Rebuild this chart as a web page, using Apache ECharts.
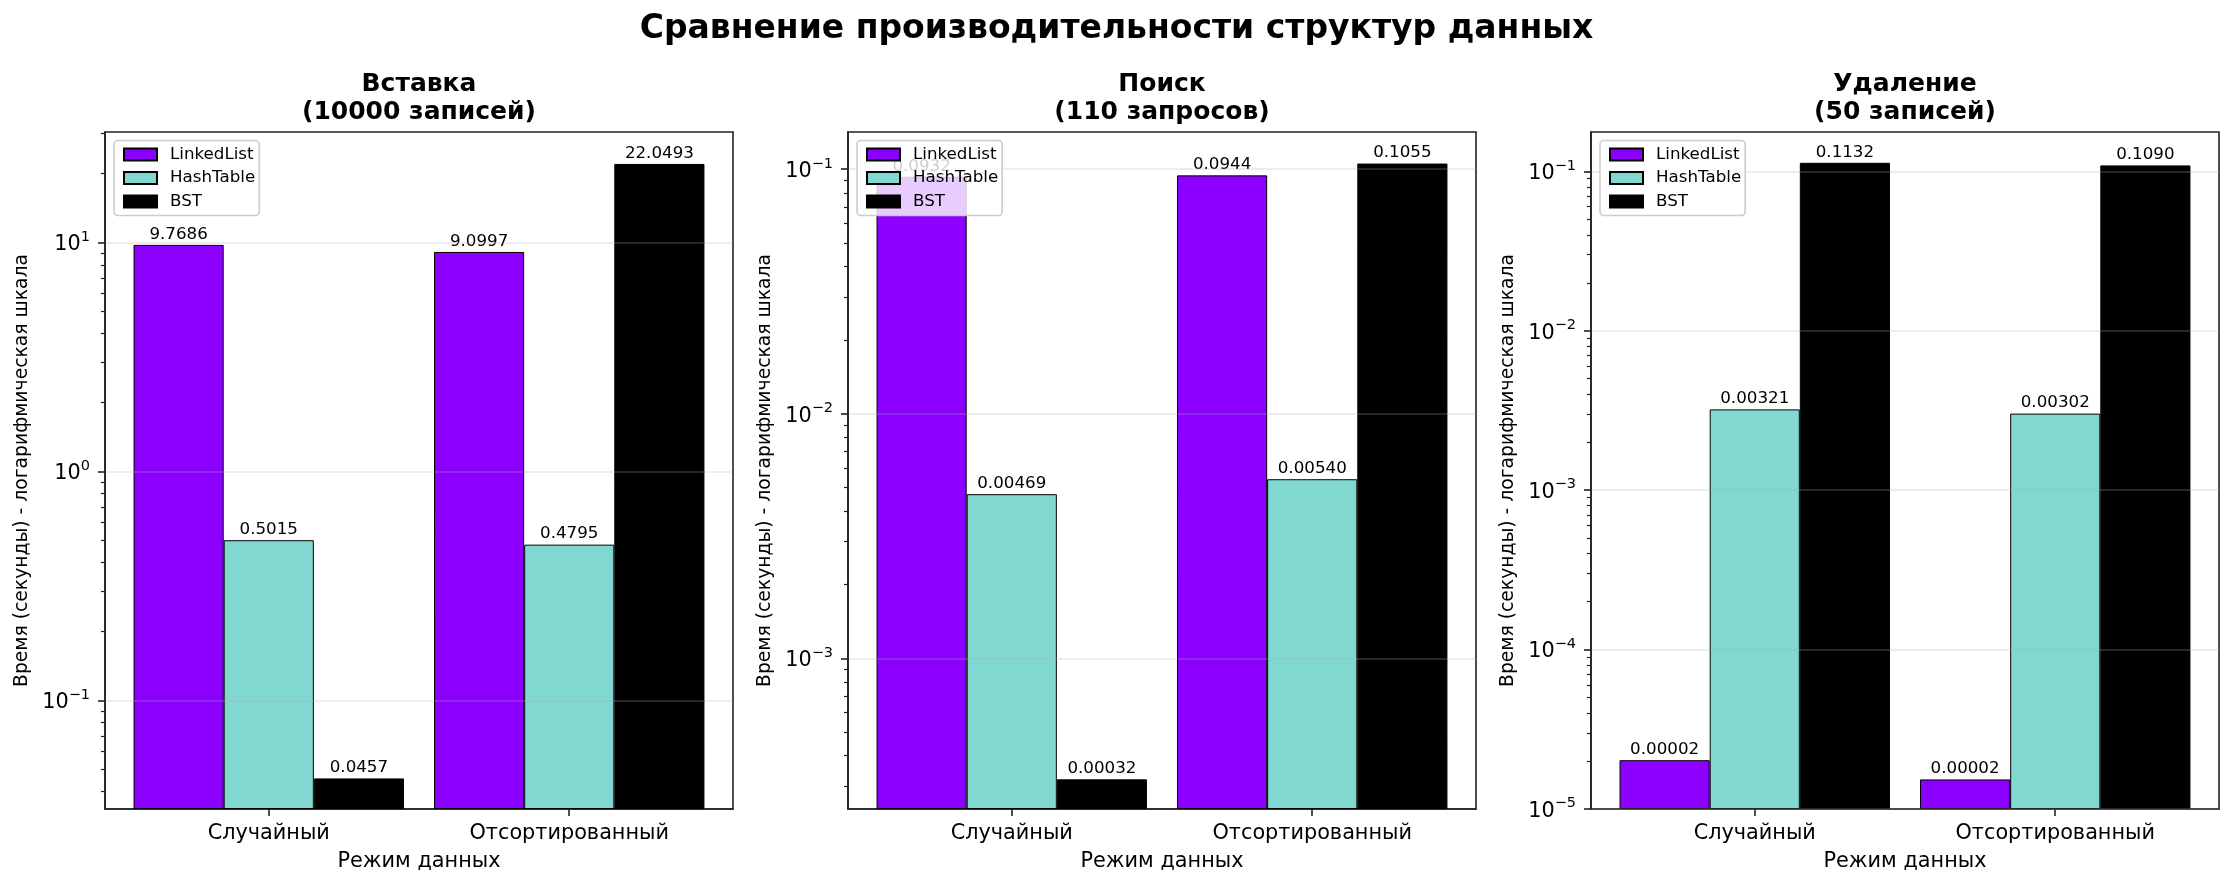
<!DOCTYPE html>
<html>
<head>
<meta charset="utf-8">
<script src="https://cdn.jsdelivr.net/npm/echarts@6/dist/echarts.min.js"></script>
<style>
html, body { margin: 0; padding: 0; background: #fff; }
#chart { width: 2233px; height: 888px; }
</style>
</head>
<body>
<div id="chart"></div>
<script>
const modes = ["Случайный", "Отсортированный"];
const structures = ["LinkedList", "HashTable", "BST"];
const colors = ["#8B00FF", "#81D8D0", "#000000"];
const panelTitles = ["Вставка\n(10000 записей)", "Поиск\n(110 запросов)", "Удаление\n(50 записей)"];

// время, сек: [случайный, отсортированный]
const insertLinkedList = [9.7686, 9.0997];
const insertHashTable = [0.5015, 0.4795];
const insertBST = [0.0457, 22.0493];
const searchLinkedList = [0.0932, 0.0944];
const searchHashTable = [0.00469, 0.00540];
const searchBST = [0.00032, 0.1055];
const deleteLinkedList = [0.0000202, 0.0000153];
const deleteHashTable = [0.00321, 0.00302];
const deleteBST = [0.1132, 0.1090];

// пределы и деления логарифмических осей
const yMin = [0.0336, 0.000242, 0.00000998];
const yMax = [30.4, 0.142, 0.1766];
const yTicks = [
    [0.1, 1, 10],
    [0.001, 0.01, 0.1],
    [0.00001, 0.0001, 0.001, 0.01, 0.1]
];

const panels = [
    [insertLinkedList, insertHashTable, insertBST],
    [searchLinkedList, searchHashTable, searchBST],
    [deleteLinkedList, deleteHashTable, deleteBST]
];

const FONT = "DejaVu Sans";
const gridLeft = [105, 848, 1591];
const gridWidth = 628;
const gridTop = 132;
const gridHeight = 677;
const axisColor = "#222";

function minorTicks(min, max) {
    const out = [];
    for (let e = Math.floor(Math.log10(min)); e <= Math.ceil(Math.log10(max)); e++) {
        for (let m = 2; m <= 9; m++) {
            const v = m * Math.pow(10, e);
            if (v >= min && v <= max) out.push(v);
        }
    }
    return out;
}

function powLabel(v) {
    const e = Math.round(Math.log10(v));
    return "{b|10}{e|" + String(e).replace("-", "\u2212") + "}";
}

function barLabel(v) {
    return v >= 0.01 ? v.toFixed(4) : v.toFixed(5);
}

const titles = [{
    text: "Сравнение производительности структур данных",
    left: 1116.5, top: 10, textAlign: "center", padding: 0,
    textStyle: { fontFamily: FONT, fontSize: 33, fontWeight: "bold", lineHeight: 38, color: "#000" }
}];
const grids = [], xAxes = [], yAxes = [], minorAxes = [], legends = [], series = [];

panels.forEach((panel, i) => {
    titles.push({
        text: panelTitles[i],
        left: gridLeft[i] + gridWidth / 2, top: 70, textAlign: "center", padding: 0,
        textStyle: { fontFamily: FONT, fontSize: 25, fontWeight: "bold", lineHeight: 28, color: "#000" }
    });
    grids.push({
        left: gridLeft[i], top: gridTop, width: gridWidth, height: gridHeight,
        show: true, borderColor: axisColor, borderWidth: 1.6, backgroundColor: "transparent"
    });
    xAxes.push({
        type: "value", gridIndex: i, min: -0.545, max: 1.545,
        axisLine: { show: true, onZero: false, lineStyle: { color: axisColor, width: 1.6 } },
        axisTick: { customValues: [0, 1], length: 7, lineStyle: { color: axisColor, width: 1.6 } },
        axisLabel: { customValues: [0, 1], formatter: v => modes[v], margin: 14,
            fontFamily: FONT, fontSize: 20.8, color: "#000" },
        splitLine: { show: false },
        name: "Режим данных", nameLocation: "middle", nameGap: 42,
        nameTextStyle: { fontFamily: FONT, fontSize: 20.8, color: "#000" }
    });
    yAxes.push({
        type: "log", gridIndex: i, min: yMin[i], max: yMax[i], startValue: yMin[i], z: 3,
        axisLine: { show: true, onZero: false, lineStyle: { color: axisColor, width: 1.6 } },
        axisTick: { customValues: yTicks[i], length: 7, lineStyle: { color: axisColor, width: 1.6 } },
        axisLabel: {
            customValues: yTicks[i], formatter: powLabel, margin: 15, color: "#000",
            rich: {
                b: { fontFamily: FONT, fontSize: 20.8, lineHeight: 26, verticalAlign: "bottom", color: "#000" },
                e: { fontFamily: FONT, fontSize: 14.5, lineHeight: 26, verticalAlign: "top", color: "#000" }
            }
        },
        splitLine: { show: true, lineStyle: { color: "rgba(176,176,176,0.3)", width: 1.6 } },
        name: "Время (секунды) - логарифмическая шкала", nameLocation: "middle", nameGap: 73, nameRotate: 90,
        nameTextStyle: { fontFamily: FONT, fontSize: 18.75, color: "#000" }
    });
    minorAxes.push({
        type: "log", gridIndex: i, min: yMin[i], max: yMax[i], position: "left", z: 3,
        axisLine: { show: false, onZero: false },
        axisTick: { customValues: minorTicks(yMin[i], yMax[i]), length: 4, lineStyle: { color: axisColor, width: 1.2 } },
        axisLabel: { show: false },
        splitLine: { show: false }
    });
    legends.push({
        orient: "vertical", left: gridLeft[i] + 9, top: 140.5,
        data: structures, icon: "rect", itemWidth: 33, itemHeight: 12, itemGap: 3.5,
        padding: [4, 4, 4, 9],
        backgroundColor: "rgba(255,255,255,0.8)", borderColor: "#cccccc", borderWidth: 1.6, borderRadius: 4,
        textStyle: { fontFamily: FONT, fontSize: 16.7, lineHeight: 20, color: "#000", padding: [0, 0, 0, 8] }
    });
    panel.forEach((values, j) => {
        series.push({
            type: "bar", name: structures[j], xAxisIndex: i, yAxisIndex: i,
            data: values.map((v, k) => [k, v]),
            barWidth: "30%", barGap: "0%",
            itemStyle: { color: colors[j], borderColor: "#000", borderWidth: 1 },
            label: {
                show: true, position: "top", distance: 2,
                formatter: p => barLabel(p.value[1]),
                fontFamily: FONT, fontSize: 16.7, color: "#000"
            }
        });
    });
});

const chart = echarts.init(document.getElementById("chart"));
chart.setOption({
    animation: false,
    backgroundColor: "#fff",
    textStyle: { fontFamily: FONT },
    title: titles,
    grid: grids,
    xAxis: xAxes,
    yAxis: yAxes.concat(minorAxes),
    legend: legends,
    series: series
});
window.addEventListener("resize", () => chart.resize());
</script>
</body>
</html>
